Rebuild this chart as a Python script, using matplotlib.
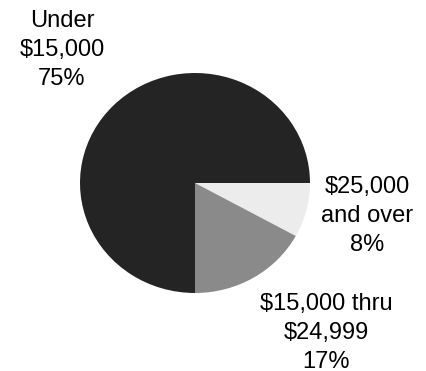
import matplotlib.pyplot as plt

plt.rcParams['font.family'] = ['Liberation Sans', 'DejaVu Sans']

# income brackets, clockwise from 3 o'clock
shares = [8, 17, 75]
labels = ["$25,000\nand over\n8%", "$15,000 thru\n$24,999\n17%", "Under\n$15,000\n75%"]
colors = ['#ececec', '#8a8a8a', '#242424']

W, H = 427, 371
fig = plt.figure(figsize=(W / 100, H / 100), dpi=100)

# pie box in pixels: left, top, width, height
px, py, pw, ph = 80, 73, 230, 220
ax = fig.add_axes([px / W, (H - py - ph) / H, pw / W, ph / H])
ax.pie(shares, colors=colors, startangle=0, counterclock=False,
       wedgeprops=dict(linewidth=0))
ax.set_aspect('auto')
ax.set_xlim(-1, 1)
ax.set_ylim(-1, 1)
ax.axis('off')

# label centres in pixels
label_pos = [(367, 216), (326, 333), (62, 50)]
for text, (x, y) in zip(labels, label_pos):
    fig.text(x / W, 1 - y / H, text, ha='center', va='center',
             fontsize=17, linespacing=1.42, color='black')

fig.savefig('out.png', dpi=100)
